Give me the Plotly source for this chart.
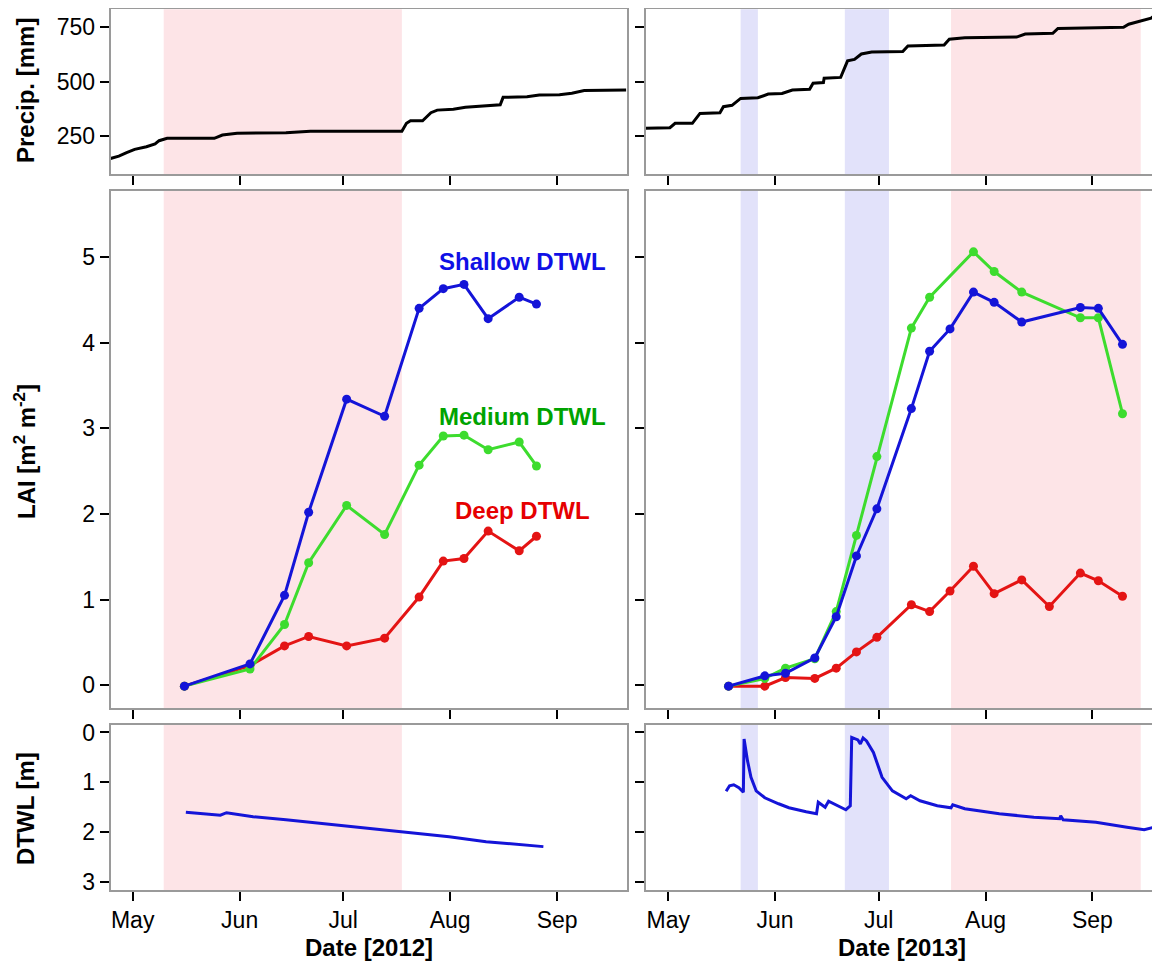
import plotly.graph_objects as go
from plotly.subplots import make_subplots

# ---------------- DATA ----------------
# Cumulative precipitation [mm]
precip12_dates = ["2012-04-24 14:00", "2012-04-27", "2012-04-29 06:00", "2012-05-01 14:00", "2012-05-05",
                  "2012-05-07 12:00", "2012-05-08 16:00", "2012-05-11", "2012-05-24 16:00", "2012-05-27",
                  "2012-05-31 06:00", "2012-06-14 10:00", "2012-06-21 12:00", "2012-07-18", "2012-07-19 08:00",
                  "2012-07-20 12:00", "2012-07-24", "2012-07-26 10:00", "2012-07-28 06:00", "2012-08-01 22:00",
                  "2012-08-05 10:00", "2012-08-10 06:00", "2012-08-15 12:00", "2012-08-16 08:00", "2012-08-23 06:00",
                  "2012-08-26 20:00", "2012-09-01 16:00", "2012-09-05 06:00", "2012-09-08 20:00", "2012-09-21"]
precip12_vals = [145, 156, 172, 187, 199, 212, 227, 238, 238, 253, 261, 264, 270, 270, 307,
                 319, 319, 356, 368, 372, 381, 387, 393, 427, 430, 438, 439, 446, 458, 461]

precip13_dates = ["2013-04-24 10:00", "2013-05-01 12:00", "2013-05-03", "2013-05-08", "2013-05-10 05:00",
                  "2013-05-16", "2013-05-17", "2013-05-19 12:00", "2013-05-22", "2013-05-27", "2013-05-30",
                  "2013-06-03", "2013-06-06", "2013-06-11", "2013-06-12", "2013-06-15", "2013-06-15 05:00",
                  "2013-06-20", "2013-06-22", "2013-06-24", "2013-06-26", "2013-06-29", "2013-07-08",
                  "2013-07-09 12:00", "2013-07-20", "2013-07-21 12:00", "2013-07-26", "2013-08-10",
                  "2013-08-12 12:00", "2013-08-20 12:00", "2013-08-22", "2013-09-10", "2013-09-11 12:00",
                  "2013-09-15", "2013-09-18", "2013-09-19 12:00", "2013-09-21"]
precip13_vals = [284, 287, 307, 307, 353, 356, 384, 390, 422, 425, 442, 445, 461, 464, 492, 495, 515,
                 519, 595, 602, 627, 636, 638, 664, 668, 695, 702, 705, 719, 722, 745, 750, 764,
                 779, 792, 811, 815]

# LAI [m2 m-2]
lai12_dates = ["2012-05-16", "2012-06-04", "2012-06-14", "2012-06-21", "2012-07-02", "2012-07-13",
               "2012-07-23", "2012-07-30", "2012-08-05", "2012-08-12", "2012-08-21", "2012-08-26"]
lai12_shallow = [-0.01, 0.25, 1.05, 2.02, 3.34, 3.14, 4.40, 4.63, 4.68, 4.28, 4.53, 4.45]
lai12_medium = [-0.01, 0.19, 0.71, 1.43, 2.10, 1.76, 2.57, 2.91, 2.92, 2.75, 2.84, 2.56]
lai12_deep = [-0.01, 0.23, 0.46, 0.57, 0.46, 0.55, 1.03, 1.45, 1.48, 1.80, 1.57, 1.74]

lai13_shallow_dates = ["2013-05-18 12:00", "2013-05-29", "2013-06-04", "2013-06-12 12:00", "2013-06-18 17:00",
                       "2013-06-24 14:00", "2013-06-30 12:00", "2013-07-10 12:00", "2013-07-15 19:00",
                       "2013-07-21 17:00", "2013-07-28 12:00", "2013-08-03 12:00", "2013-08-11 12:00",
                       "2013-08-28 12:00", "2013-09-02 17:00", "2013-09-09 17:00"]
lai13_shallow = [-0.01, 0.11, 0.14, 0.32, 0.80, 1.51, 2.06, 3.23, 3.90, 4.16, 4.59, 4.47, 4.24, 4.41, 4.40, 3.98]

lai13_medium_dates = ["2013-05-18 12:00", "2013-05-29", "2013-06-04", "2013-06-12 12:00", "2013-06-18 17:00",
                      "2013-06-24 14:00", "2013-06-30 12:00", "2013-07-10 12:00", "2013-07-15 19:00",
                      "2013-07-28 12:00", "2013-08-03 12:00", "2013-08-11 12:00",
                      "2013-08-28 12:00", "2013-09-02 17:00", "2013-09-09 17:00"]
lai13_medium = [-0.01, 0.08, 0.20, 0.31, 0.86, 1.75, 2.67, 4.17, 4.53, 5.06, 4.83, 4.59, 4.29, 4.29, 3.17]

lai13_deep_dates = ["2013-05-18 12:00", "2013-05-29", "2013-06-04", "2013-06-12 12:00", "2013-06-18 17:00",
                    "2013-06-24 14:00", "2013-06-30 12:00", "2013-07-10 12:00", "2013-07-15 19:00",
                    "2013-07-21 17:00", "2013-07-28 12:00", "2013-08-03 12:00", "2013-08-11 12:00",
                    "2013-08-19 12:00", "2013-08-28 12:00", "2013-09-02 17:00", "2013-09-09 17:00"]
lai13_deep = [-0.01, -0.01, 0.09, 0.08, 0.20, 0.39, 0.56, 0.94, 0.86, 1.10, 1.39, 1.07, 1.23, 0.92, 1.31, 1.22, 1.04]

# Depth to water level [m]
dtwl12_dates = ["2012-05-16 10:00", "2012-05-26 10:00", "2012-05-28 05:00", "2012-06-04 22:00",
                "2012-06-14 10:00", "2012-07-01", "2012-07-18", "2012-07-24 14:00", "2012-07-31 17:00",
                "2012-08-11 10:00", "2012-08-28"]
dtwl12_vals = [1.60, 1.66, 1.61, 1.69, 1.75, 1.87, 2.00, 2.05, 2.09, 2.19, 2.29]

dtwl13_dates = ["2013-05-17 19:00", "2013-05-18 19:00", "2013-05-20", "2013-05-21 12:00", "2013-05-22 19:00",
                "2013-05-23", "2013-05-24", "2013-05-25", "2013-05-26 12:00", "2013-05-29", "2013-06-02",
                "2013-06-05", "2013-06-10", "2013-06-13", "2013-06-13 12:00", "2013-06-15 12:00",
                "2013-06-16 12:00", "2013-06-18", "2013-06-21 12:00", "2013-06-22 19:00", "2013-06-23 05:00",
                "2013-06-25", "2013-06-25 17:00", "2013-06-26 12:00", "2013-06-27 12:00", "2013-06-29 12:00",
                "2013-07-02", "2013-07-05", "2013-07-09", "2013-07-10 07:00", "2013-07-13", "2013-07-18",
                "2013-07-22", "2013-07-22 12:00", "2013-07-26", "2013-08-05", "2013-08-15", "2013-08-22 12:00",
                "2013-08-22 19:00", "2013-08-23 12:00", "2013-09-02", "2013-09-11", "2013-09-16",
                "2013-09-19 12:00", "2013-09-20", "2013-09-20 19:00"]
dtwl13_vals = [1.18, 1.07, 1.05, 1.11, 1.20, 0.13, 0.57, 0.90, 1.17, 1.31, 1.43, 1.51, 1.59, 1.63, 1.40,
               1.50, 1.38, 1.43, 1.55, 1.47, 0.10, 0.15, 0.23, 0.11, 0.17, 0.40, 0.90, 1.17, 1.33, 1.27,
               1.37, 1.47, 1.51, 1.45, 1.53, 1.63, 1.70, 1.73, 1.67, 1.75, 1.80, 1.90, 1.95, 1.89, 1.71, 1.77]

# Shaded periods
dry12 = [("2012-05-10", "2012-07-18")]
wet13 = [("2013-05-22", "2013-05-27"), ("2013-06-21 05:00", "2013-07-04")]
dry13 = [("2013-07-22", "2013-09-15")]

xrange12 = ["2012-04-24 14:00", "2012-09-21 02:00"]
xrange13 = ["2013-04-24 10:00", "2013-09-20 14:00"]
month_ticks12 = ["2012-05-01", "2012-06-01", "2012-07-01", "2012-08-01", "2012-09-01"]
month_ticks13 = ["2013-05-01", "2013-06-01", "2013-07-01", "2013-08-01", "2013-09-01"]
month_labels = ["May", "Jun", "Jul", "Aug", "Sep"]

# series labels (placed in the 2012 LAI panel)
label_texts = ["Shallow DTWL", "Medium DTWL", "Deep DTWL"]
label_dates = ["2012-08-22", "2012-08-22", "2012-08-22"]
label_vals = [4.95, 3.14, 2.04]

# ---------------- STYLE ----------------
# the page body adds an 8 px offset; the figure is sized to fit inside the window
OFF = 8
W, H = 1160 - OFF, 965 - OFF
BLUE = "#1414d8"
GREEN = "#3ddc2e"
RED = "#e41414"
PINK = "#fde4e7"
LAV = "#e2e2fa"
FONT = "Liberation Sans, Arial, sans-serif"
label_colors = ["#1010e6", "#00a300", "#e60000"]

fig = make_subplots(rows=3, cols=2)

def fx(px):
    return (px - OFF) / W

def fy(py):
    return 1 - (py - OFF) / H

col_dom = [[fx(110.5), fx(626.5)], [fx(645.5), 1.0]]
row_dom = [[fy(174), fy(9.3)], [fy(708), fy(191)], [fy(890), fy(725)]]

# traces
fig.add_trace(go.Scatter(x=precip12_dates, y=precip12_vals, mode="lines",
                         line=dict(color="black", width=3)), row=1, col=1)
fig.add_trace(go.Scatter(x=precip13_dates, y=precip13_vals, mode="lines",
                         line=dict(color="black", width=3)), row=1, col=2)

def lai(x, y, color, r, c):
    fig.add_trace(go.Scatter(x=x, y=y, mode="lines+markers",
                             line=dict(color=color, width=3),
                             marker=dict(color=color, size=9)), row=r, col=c)

lai(lai12_dates, lai12_deep, RED, 2, 1)
lai(lai12_dates, lai12_medium, GREEN, 2, 1)
lai(lai12_dates, lai12_shallow, BLUE, 2, 1)
lai(lai13_deep_dates, lai13_deep, RED, 2, 2)
lai(lai13_medium_dates, lai13_medium, GREEN, 2, 2)
lai(lai13_shallow_dates, lai13_shallow, BLUE, 2, 2)

fig.add_trace(go.Scatter(x=dtwl12_dates, y=dtwl12_vals, mode="lines",
                         line=dict(color=BLUE, width=3)), row=3, col=1)
fig.add_trace(go.Scatter(x=dtwl13_dates, y=dtwl13_vals, mode="lines",
                         line=dict(color=BLUE, width=3)), row=3, col=2)

# axes
yranges = [[73.4, 833], [-0.265, 5.77], [3.16, -0.15]]
ytickvals = [[250, 500, 750], [0, 1, 2, 3, 4, 5], [0, 1, 2, 3]]
axis_common = dict(showline=True, mirror=True, linecolor="#9a9a9a", linewidth=1.5,
                   ticks="outside", tickcolor="black", tickwidth=2, ticklen=9,
                   showgrid=False, zeroline=False, automargin=False,
                   tickfont=dict(family=FONT, size=23, color="black"))
for r in range(3):
    for c in range(2):
        idx = r * 2 + c + 1
        xa = "xaxis" if idx == 1 else f"xaxis{idx}"
        ya = "yaxis" if idx == 1 else f"yaxis{idx}"
        fig.layout[xa].update(domain=col_dom[c], type="date",
                              range=xrange12 if c == 0 else xrange13,
                              tickvals=month_ticks12 if c == 0 else month_ticks13,
                              ticktext=month_labels,
                              showticklabels=(r == 2), **axis_common)
        fig.layout[ya].update(domain=row_dom[r], range=yranges[r],
                              tickvals=ytickvals[r],
                              showticklabels=(c == 0), **axis_common)

# shading
shapes = []
for r in range(3):
    for c in range(2):
        idx = r * 2 + c + 1
        xref = "x" if idx == 1 else f"x{idx}"
        yref = ("y" if idx == 1 else f"y{idx}") + " domain"
        if c == 0:
            periods = [(a, b, PINK) for a, b in dry12]
        else:
            periods = [(a, b, LAV) for a, b in wet13] + [(a, b, PINK) for a, b in dry13]
        for a, b, colr in periods:
            shapes.append(dict(type="rect", xref=xref, yref=yref, x0=a, x1=b, y0=0, y1=1,
                               fillcolor=colr, line=dict(width=0), layer="below"))

# annotations
TITLE = dict(family=FONT, size=24, color="black")
ann = [
    dict(text="<b>Precip. [mm]</b>", x=fx(25), y=fy(91), textangle=-90),
    dict(text="<b>LAI [m<sup>2</sup> m<sup>-2</sup>]</b>", x=fx(25), y=fy(452), textangle=-90),
    dict(text="<b>DTWL [m]</b>", x=fx(25), y=fy(809), textangle=-90),
    dict(text="<b>Date [2012]</b>", x=fx(368.5), y=fy(947)),
    dict(text="<b>Date [2013]</b>", x=fx(902), y=fy(947)),
]
annotations = []
for a in ann:
    a.update(xref="paper", yref="paper", showarrow=False, font=TITLE,
             xanchor="center", yanchor="middle")
    annotations.append(a)

for t, xv, yv, colr in zip(label_texts, label_dates, label_vals, label_colors):
    annotations.append(dict(text=f"<b>{t}</b>", x=xv, y=yv, xref="x3", yref="y3",
                            showarrow=False, xanchor="center", yanchor="middle",
                            font=dict(family=FONT, size=24, color=colr)))

fig.update_layout(width=W, height=H,
                  margin=dict(l=0, r=0, t=0, b=0, pad=0, autoexpand=False),
                  paper_bgcolor="white", plot_bgcolor="white", showlegend=False,
                  shapes=shapes, annotations=annotations)

fig.write_html("out.html")
